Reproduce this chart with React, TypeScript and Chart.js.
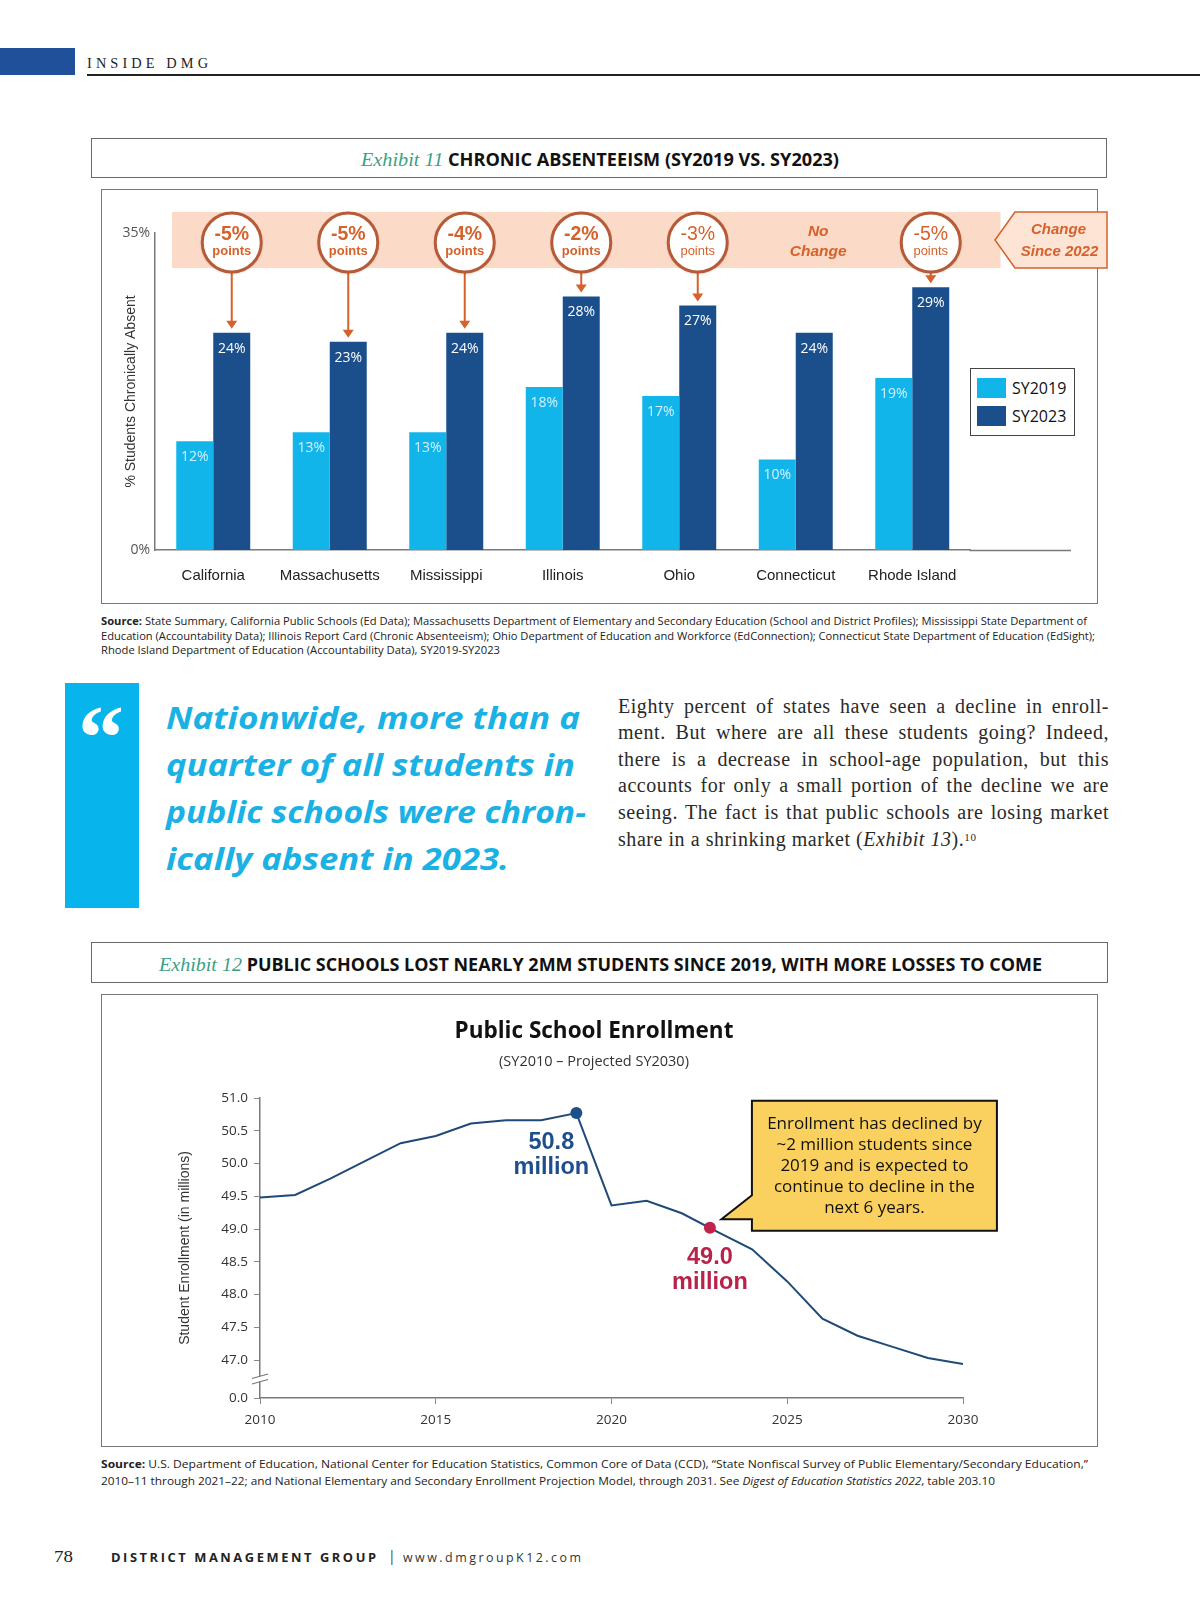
import React, { useEffect, useLayoutEffect, useRef } from 'react';
import { Chart, registerables } from 'chart.js';

Chart.register(...registerables);

// ---------- Exhibit 11 data ----------
const states = ['California', 'Massachusetts', 'Mississippi', 'Illinois', 'Ohio', 'Connecticut', 'Rhode Island'];
const absent2019 = [12, 13, 13, 18, 17, 10, 19];
const absent2023 = [24, 23, 24, 28, 27, 24, 29];
const changeSince2022 = [-5, -5, -4, -2, -3, 0, -5];
const absentTicks = [0, 35];
const seriesNames = ['SY2019', 'SY2023'];

// ---------- Exhibit 12 data ----------
const years = [2010, 2011, 2012, 2013, 2014, 2015, 2016, 2017, 2018, 2019, 2020, 2021, 2022, 2023, 2024, 2025, 2026, 2027, 2028, 2029, 2030];
const enrollment = [49.48, 49.52, 49.77, 50.04, 50.31, 50.42, 50.61, 50.66, 50.66, 50.77, 49.36, 49.43, 49.24, 48.96, 48.69, 48.2, 47.63, 47.37, 47.2, 47.03, 46.94];
const yearTicks = [2010, 2015, 2020, 2025, 2030];
const enrollTicks = [47.0, 47.5, 48.0, 48.5, 49.0, 49.5, 50.0, 50.5, 51.0];
const highlightYears = [2019, 2022.8];
const highlightValues = [50.77, 49.02];
const calloutLines = [
  'Enrollment has declined by',
  '~2 million students since',
  '2019 and is expected to',
  'continue to decline in the',
  'next 6 years.',
];

const LIGHT = '#12b5ea';
const DARK = '#1a4f8b';
const ORANGE = '#d5612b';
const RING = '#b65a37';
const AXIS_MIN_BREAK = 46.42;

function Txt(props: any) {
  const { x, y, w, fs, ff, fw, fst, color, ls, lh, children } = props;
  const ref = useRef<HTMLDivElement>(null);
  useLayoutEffect(() => {
    const el = ref.current;
    if (!el || !w) return;
    const fit = () => {
      el.style.transform = 'none';
      const aw = el.getBoundingClientRect().width - (ls || 0);
      if (aw > 0) el.style.transform = `scaleX(${w / aw})`;
    };
    fit();
    const f: any = (document as any).fonts;
    if (f && f.ready) f.ready.then(fit);
  }, [w]);
  const lineH = lh ?? fs * 1.2;
  return (
    <div
      ref={ref}
      style={{
        position: 'absolute',
        left: x,
        top: y - lineH / 2,
        whiteSpace: 'nowrap',
        fontSize: fs,
        fontFamily: ff,
        fontWeight: fw || 'normal',
        fontStyle: fst || 'normal',
        color: color || '#222',
        letterSpacing: ls ? ls + 'px' : undefined,
        lineHeight: lineH + 'px',
        transformOrigin: '0 0',
      }}
    >
      {children}
    </div>
  );
}

function JLine(props: any) {
  const { y, last, children } = props;
  const fs = 20;
  return (
    <div
      style={{
        position: 'absolute',
        left: 618,
        top: y - fs * 0.62,
        width: 491,
        whiteSpace: 'nowrap',
        fontFamily: '"Liberation Serif", serif',
        fontSize: fs,
        letterSpacing: '0.55px',
        lineHeight: fs * 1.2 + 'px',
        color: '#2a2a2a',
        textAlign: last ? 'left' : 'justify',
        textAlignLast: last ? 'left' : 'justify',
      } as any}
    >
      {children}
    </div>
  );
}

const absentDecor = {
  id: 'absentDecor',
  beforeDatasetsDraw(chart: any) {
    const { ctx, chartArea: ca } = chart;
    const bandTop = chart.scales.y.getPixelForValue(35) - 21;
    ctx.save();
    ctx.fillStyle = '#fbdac7';
    ctx.fillRect(ca.left + 17, bandTop, ca.right + 30 - (ca.left + 17), 56);
    ctx.restore();
  },
  afterDatasetsDraw(chart: any) {
    const { ctx, chartArea: ca } = chart;
    const bandTop = chart.scales.y.getPixelForValue(35) - 21;
    const light = chart.getDatasetMeta(0).data;
    const dark = chart.getDatasetMeta(1).data;
    ctx.save();
    // x-axis line continues past the last category
    const ay = Math.round(ca.bottom - 0.75) + 1.5;
    ctx.strokeStyle = '#7a7a7a';
    ctx.lineWidth = 1.5;
    ctx.beginPath();
    ctx.moveTo(ca.right - 1, ay);
    ctx.lineTo(ca.right + 100.5, ay);
    ctx.stroke();

    // value labels
    ctx.textAlign = 'center';
    ctx.textBaseline = 'middle';
    ctx.font = '14px "Open Sans"';
    light.forEach((b: any, i: number) => {
      ctx.fillStyle = '#d2f1ff';
      ctx.fillText(absent2019[i] + '%', b.x, b.y + 16);
    });
    dark.forEach((b: any, i: number) => {
      ctx.fillStyle = '#ffffff';
      ctx.fillText(absent2023[i] + '%', b.x, b.y + 16);
    });

    // change bubbles and arrows
    const cy = bandTop + 30.5;
    dark.forEach((b: any, i: number) => {
      const v = changeSince2022[i];
      if (v === 0) {
        ctx.fillStyle = ORANGE;
        ctx.font = 'italic bold 15.5px "Liberation Sans"';
        ctx.fillText('No', b.x + 4, bandTop + 19.5);
        ctx.fillText('Change', b.x + 4, bandTop + 40);
        return;
      }
      const tip = b.y - 4;
      ctx.strokeStyle = ORANGE;
      ctx.lineWidth = 2;
      ctx.beginPath();
      ctx.moveTo(b.x, cy + 30);
      ctx.lineTo(b.x, tip - 7);
      ctx.stroke();
      ctx.fillStyle = ORANGE;
      ctx.beginPath();
      ctx.moveTo(b.x - 5.5, tip - 8);
      ctx.lineTo(b.x + 5.5, tip - 8);
      ctx.lineTo(b.x, tip);
      ctx.closePath();
      ctx.fill();

      ctx.save();
      ctx.shadowColor = 'rgba(70,35,20,0.45)';
      ctx.shadowBlur = 3;
      ctx.shadowOffsetY = 1;
      ctx.beginPath();
      ctx.arc(b.x, cy, 29.5, 0, Math.PI * 2);
      ctx.fillStyle = '#ffffff';
      ctx.fill();
      ctx.restore();
      ctx.lineWidth = 3;
      ctx.strokeStyle = RING;
      ctx.beginPath();
      ctx.arc(b.x, cy, 29.5, 0, Math.PI * 2);
      ctx.stroke();

      const strong = i < 4;
      ctx.fillStyle = ORANGE;
      ctx.font = (strong ? 'bold ' : '') + '19.5px "Liberation Sans"';
      ctx.fillText(v + '%', b.x, cy - 7.5);
      ctx.font = (strong ? 'bold ' : '') + '13px "Liberation Sans"';
      ctx.fillText('points', b.x, cy + 9);
    });

    // "Change Since 2022" tag
    const px0 = ca.right + 24.5;
    const px1 = ca.right + 44.5;
    const px2 = ca.right + 136.5;
    const pTop = bandTop;
    const pBot = bandTop + 56;
    ctx.beginPath();
    ctx.moveTo(px0, (pTop + pBot) / 2);
    ctx.lineTo(px1, pTop);
    ctx.lineTo(px2, pTop);
    ctx.lineTo(px2, pBot);
    ctx.lineTo(px1, pBot);
    ctx.closePath();
    ctx.fillStyle = '#fde4d5';
    ctx.fill();
    ctx.strokeStyle = ORANGE;
    ctx.lineWidth = 1.5;
    ctx.stroke();
    ctx.fillStyle = ORANGE;
    ctx.font = 'italic bold 15px "Liberation Sans"';
    ctx.fillText('Change', ca.right + 88, bandTop + 18);
    ctx.fillText('Since 2022', ca.right + 89, bandTop + 39.5);
    ctx.restore();
  },
};

const enrollDecor = {
  id: 'enrollDecor',
  afterDraw(chart: any) {
    const { ctx, chartArea: ca } = chart;
    const yS = chart.scales.y;
    ctx.save();
    // axis break marks
    const yb = (yS.getPixelForValue(enrollTicks[0]) + ca.bottom) / 2;
    const ax = ca.left;
    ctx.fillStyle = '#ffffff';
    ctx.fillRect(ax - 3, yb - 2.5, 6, 5);
    ctx.strokeStyle = '#777';
    ctx.lineWidth = 1.2;
    ctx.beginPath();
    ctx.moveTo(ax - 8, yb - 0.5);
    ctx.lineTo(ax + 8, yb - 5);
    ctx.moveTo(ax - 8, yb + 5);
    ctx.lineTo(ax + 8, yb + 0.5);
    ctx.stroke();

    // highlight labels
    const pts = chart.getDatasetMeta(1).data;
    ctx.textAlign = 'center';
    ctx.textBaseline = 'middle';
    ctx.font = 'bold 23.5px "Liberation Sans"';
    const p0 = pts[0];
    ctx.fillStyle = '#1e4f8c';
    ctx.fillText(highlightValues[0].toFixed(1), p0.x - 25, p0.y + 29.5);
    ctx.fillText('million', p0.x - 25, p0.y + 54.5);
    const p1 = pts[1];
    ctx.fillStyle = '#b8234a';
    ctx.fillText(highlightValues[1].toFixed(1), p1.x, p1.y + 30);
    ctx.fillText('million', p1.x, p1.y + 55);

    // callout
    const left = p1.x + 42;
    const right = p1.x + 287;
    const top = p1.y - 127;
    const bottom = p1.y + 3;
    const notchTop = p1.y - 32.5;
    const tipX = p1.x + 11.5;
    const tipY = p1.y - 8.5;
    ctx.beginPath();
    ctx.moveTo(left, top);
    ctx.lineTo(right, top);
    ctx.lineTo(right, bottom);
    ctx.lineTo(left, bottom);
    ctx.lineTo(left, tipY);
    ctx.lineTo(tipX, tipY);
    ctx.lineTo(left, notchTop);
    ctx.closePath();
    ctx.fillStyle = '#fad15f';
    ctx.fill();
    ctx.strokeStyle = '#111';
    ctx.lineWidth = 2;
    ctx.lineJoin = 'miter';
    ctx.stroke();
    ctx.fillStyle = '#111';
    ctx.font = '17px "Open Sans"';
    calloutLines.forEach((t, i) => {
      ctx.fillText(t, (left + right) / 2, top + 23.5 + i * 21.1);
    });
    ctx.restore();
  },
};

export default function App() {
  const c1 = useRef<HTMLCanvasElement>(null);
  const c2 = useRef<HTMLCanvasElement>(null);

  useEffect(() => {
    if (!c1.current || !c2.current) return;
    const chart1 = new Chart(c1.current, {
      type: 'bar',
      data: {
        labels: states,
        datasets: [
          { label: seriesNames[0], data: absent2019, backgroundColor: LIGHT, borderWidth: 0, categoryPercentage: 0.635, barPercentage: 1 },
          { label: seriesNames[1], data: absent2023, backgroundColor: DARK, borderWidth: 0, categoryPercentage: 0.635, barPercentage: 1 },
        ],
      },
      options: {
        responsive: false,
        animation: false,
        layout: { padding: { left: 0, right: 149.5, top: 44, bottom: 0 } },
        plugins: { legend: { display: false }, tooltip: { enabled: false } },
        scales: {
          x: {
            grid: { display: false, drawTicks: false },
            border: { display: true, color: '#7a7a7a', width: 1.5 },
            ticks: { font: { family: 'Liberation Sans', size: 15 }, color: '#222', padding: 17, maxRotation: 0, autoSkip: false },
            afterFit: (s: any) => { s.height = 54; },
          },
          y: {
            min: 0,
            max: 35,
            afterBuildTicks: (s: any) => { s.ticks = absentTicks.map((v) => ({ value: v })); },
            grid: { display: false, drawTicks: false },
            border: { display: true, color: '#7a7a7a', width: 1.5 },
            ticks: { font: { family: 'Open Sans', size: 14 }, color: '#555', padding: 5, callback: (v: any) => v + '%' },
            title: {
              display: true,
              text: '% Students Chronically Absent',
              font: { family: 'Liberation Sans', size: 14 },
              color: '#333',
              padding: { top: 21.6, bottom: 0 },
            },
            afterFit: (s: any) => { s.width = 54; },
          },
        },
      } as any,
      plugins: [absentDecor],
    });

    const chart2 = new Chart(c2.current, {
      type: 'line',
      data: {
        datasets: [
          {
            label: 'Public School Enrollment',
            data: years.map((x, i) => ({ x, y: enrollment[i] })),
            borderColor: '#1f4a78',
            borderWidth: 2,
            pointRadius: 0,
            tension: 0,
            order: 2,
          },
          {
            label: 'Highlights',
            data: highlightYears.map((x, i) => ({ x, y: highlightValues[i] })),
            showLine: false,
            pointRadius: 6,
            pointHoverRadius: 6,
            pointBackgroundColor: ['#1d4f8a', '#c3224b'],
            pointBorderWidth: 0,
            order: 1,
          },
        ],
      },
      options: {
        responsive: false,
        animation: false,
        layout: { padding: { left: 0, right: 11, top: 0, bottom: 0 } },
        plugins: {
          legend: { display: false },
          tooltip: { enabled: false },
          title: {
            display: true,
            text: 'Public School Enrollment',
            font: { family: 'Open Sans', size: 22.5, weight: 'bold' },
            color: '#111',
            padding: { top: 24, bottom: 0 },
          },
          subtitle: {
            display: true,
            text: '(SY2010 – Projected SY2030)',
            font: { family: 'Open Sans', size: 14.5 },
            color: '#333',
            padding: { top: 8, bottom: 27.6 },
          },
        },
        scales: {
          x: {
            type: 'linear',
            min: 2010,
            max: 2030,
            afterBuildTicks: (s: any) => { s.ticks = yearTicks.map((v) => ({ value: v })); },
            grid: { drawOnChartArea: false, tickLength: 6, color: '#888' },
            border: { display: true, color: '#7a7a7a', width: 1.5 },
            ticks: { font: { family: 'Open Sans', size: 13.5 }, color: '#333', padding: 8, callback: (v: any) => String(v) },
            afterFit: (s: any) => { s.height = 49; },
          },
          y: {
            type: 'linear',
            min: AXIS_MIN_BREAK,
            max: 51,
            afterBuildTicks: (s: any) => { s.ticks = [AXIS_MIN_BREAK, ...enrollTicks].map((v) => ({ value: v })); },
            grid: { drawOnChartArea: false, tickLength: 6, color: '#888' },
            border: { display: true, color: '#7a7a7a', width: 1.5 },
            ticks: {
              font: { family: 'Open Sans', size: 13.5 },
              color: '#333',
              padding: 6,
              callback: (v: any) => (v < enrollTicks[0] ? '0.0' : Number(v).toFixed(1)),
            },
            title: {
              display: true,
              text: 'Student Enrollment (in millions)',
              font: { family: 'Liberation Sans', size: 14 },
              color: '#333',
              padding: { top: 75.6, bottom: 0 },
            },
            afterFit: (s: any) => { s.width = 159; },
          },
          yRightSpace: {
            type: 'linear',
            position: 'right',
            display: true,
            grid: { display: false, drawTicks: false },
            border: { display: false },
            ticks: { display: false },
            afterFit: (s: any) => { s.width = 124; },
          },
        },
      } as any,
      plugins: [enrollDecor],
    });

    return () => {
      chart1.destroy();
      chart2.destroy();
    };
  }, []);

  const OS = '"Open Sans", sans-serif';
  const SERIF = '"Liberation Serif", serif';

  return (
    <div style={{ position: 'absolute', left: 0, top: 0, width: 1200, height: 1604, background: '#fff', overflow: 'hidden' }}>
      {/* header */}
      <div style={{ position: 'absolute', left: 0, top: 48, width: 75, height: 27, background: '#20509a' }} />
      <Txt x={87} y={64.5} w={121} fs={14} ff={SERIF} ls={4} color="#222">INSIDE DMG</Txt>
      <div style={{ position: 'absolute', left: 87, top: 73.5, width: 1113, height: 2, background: '#222' }} />

      {/* Exhibit 11 title */}
      <div style={{ position: 'absolute', left: 91, top: 138, width: 1016, height: 40, border: '1.5px solid #6a6a6a', boxSizing: 'border-box' }} />
      <Txt x={361} y={160} w={478} fs={17} ff={OS} color="#111">
        <span style={{ fontFamily: SERIF, fontStyle: 'italic', color: '#3a9f88', fontSize: 19 }}>Exhibit 11</span>
        <span style={{ fontWeight: 'bold' }}>{'  '}CHRONIC ABSENTEEISM (SY2019 VS. SY2023)</span>
      </Txt>

      {/* chart 1 */}
      <div style={{ position: 'absolute', left: 101, top: 189, width: 997, height: 415, border: '1.5px solid #777', boxSizing: 'border-box' }} />
      <canvas ref={c1} width={1019} height={415} style={{ position: 'absolute', left: 101, top: 189, width: 1019, height: 415 }} />
      <div style={{ position: 'absolute', left: 970, top: 368, width: 105, height: 68, border: '1.5px solid #444', boxSizing: 'border-box', background: '#fff' }} />
      <div style={{ position: 'absolute', left: 977, top: 378, width: 29, height: 20, background: LIGHT }} />
      <div style={{ position: 'absolute', left: 977, top: 406, width: 29, height: 20, background: DARK }} />
      <Txt x={1012} y={389} fs={16} ff={OS} color="#111">{seriesNames[0]}</Txt>
      <Txt x={1012} y={417} fs={16} ff={OS} color="#111">{seriesNames[1]}</Txt>

      {/* source 1 */}
      <Txt x={101} y={621} w={986} fs={11} ff={OS} color="#222">
        <b>Source:</b> State Summary, California Public Schools (Ed Data); Massachusetts Department of Elementary and Secondary Education (School and District Profiles); Mississippi State Department of
      </Txt>
      <Txt x={101} y={636} w={994} fs={11} ff={OS} color="#222">
        Education (Accountability Data); Illinois Report Card (Chronic Absenteeism); Ohio Department of Education and Workforce (EdConnection); Connecticut State Department of Education (EdSight);
      </Txt>
      <Txt x={101} y={650} w={399} fs={11} ff={OS} color="#222">
        Rhode Island Department of Education (Accountability Data), SY2019-SY2023
      </Txt>

      {/* quote */}
      <div style={{ position: 'absolute', left: 65, top: 683, width: 74, height: 225, background: '#08b4ec' }} />
      <div style={{ position: 'absolute', left: 78, top: 689, fontFamily: '"Liberation Serif", serif', fontWeight: 'bold', fontSize: 92, lineHeight: '96px', color: '#fff' }}>“</div>
      <Txt x={166} y={718} w={414} fs={30} ff={OS} fw="bold" fst="italic" color="#1ab1e4">Nationwide, more than a</Txt>
      <Txt x={166} y={765} w={409} fs={30} ff={OS} fw="bold" fst="italic" color="#1ab1e4">quarter of all students in</Txt>
      <Txt x={166} y={812} w={420} fs={30} ff={OS} fw="bold" fst="italic" color="#1ab1e4">public schools were chron-</Txt>
      <Txt x={166} y={859} w={343} fs={30} ff={OS} fw="bold" fst="italic" color="#1ab1e4">ically absent in 2023.</Txt>

      {/* body text */}
      <JLine y={706}>Eighty percent of states have seen a decline in enroll-</JLine>
      <JLine y={732.5}>ment. But where are all these students going? Indeed,</JLine>
      <JLine y={759}>there is a decrease in school-age population, but this</JLine>
      <JLine y={785.6}>accounts for only a small portion of the decline we are</JLine>
      <JLine y={812}>seeing. The fact is that public schools are losing market</JLine>
      <JLine y={839} last>
        share in a shrinking market (<i>Exhibit 13</i>).<sup style={{ fontSize: 11, verticalAlign: 'top', position: 'relative', top: -2 }}>10</sup>
      </JLine>

      {/* Exhibit 12 title */}
      <div style={{ position: 'absolute', left: 91, top: 942, width: 1017, height: 41, border: '1.5px solid #6a6a6a', boxSizing: 'border-box' }} />
      <Txt x={158.6} y={965} w={883} fs={17} ff={OS} color="#111">
        <span style={{ fontFamily: SERIF, fontStyle: 'italic', color: '#3a9f88', fontSize: 19 }}>Exhibit 12</span>
        <span style={{ fontWeight: 'bold' }}>{'  '}PUBLIC SCHOOLS LOST NEARLY 2MM STUDENTS SINCE 2019, WITH MORE LOSSES TO COME</span>
      </Txt>

      {/* chart 2 */}
      <div style={{ position: 'absolute', left: 101, top: 994, width: 997, height: 453, border: '1.5px solid #777', boxSizing: 'border-box' }} />
      <canvas ref={c2} width={997} height={453} style={{ position: 'absolute', left: 101, top: 994, width: 997, height: 453 }} />

      {/* source 2 */}
      <Txt x={101} y={1464} w={987} fs={11} ff={OS} color="#222">
        <b>Source:</b> U.S. Department of Education, National Center for Education Statistics, Common Core of Data (CCD), “State Nonfiscal Survey of Public Elementary/Secondary Education,”
      </Txt>
      <Txt x={101} y={1481} w={894} fs={11} ff={OS} color="#222">
        2010–11 through 2021–22; and National Elementary and Secondary Enrollment Projection Model, through 2031. See <i>Digest of Education Statistics 2022</i>, table 203.10
      </Txt>

      {/* footer */}
      <Txt x={54} y={1557} w={19} fs={17} ff={SERIF} color="#222">78</Txt>
      <Txt x={111} y={1557} w={265} fs={12.5} ff={OS} fw="bold" ls={2.5} color="#222">DISTRICT MANAGEMENT GROUP</Txt>
      <Txt x={388} y={1556} fs={14} ff={OS} color="#444">|</Txt>
      <Txt x={403} y={1557} w={178} fs={12.5} ff={OS} ls={2.5} color="#333">www.dmgroupK12.com</Txt>
    </div>
  );
}
